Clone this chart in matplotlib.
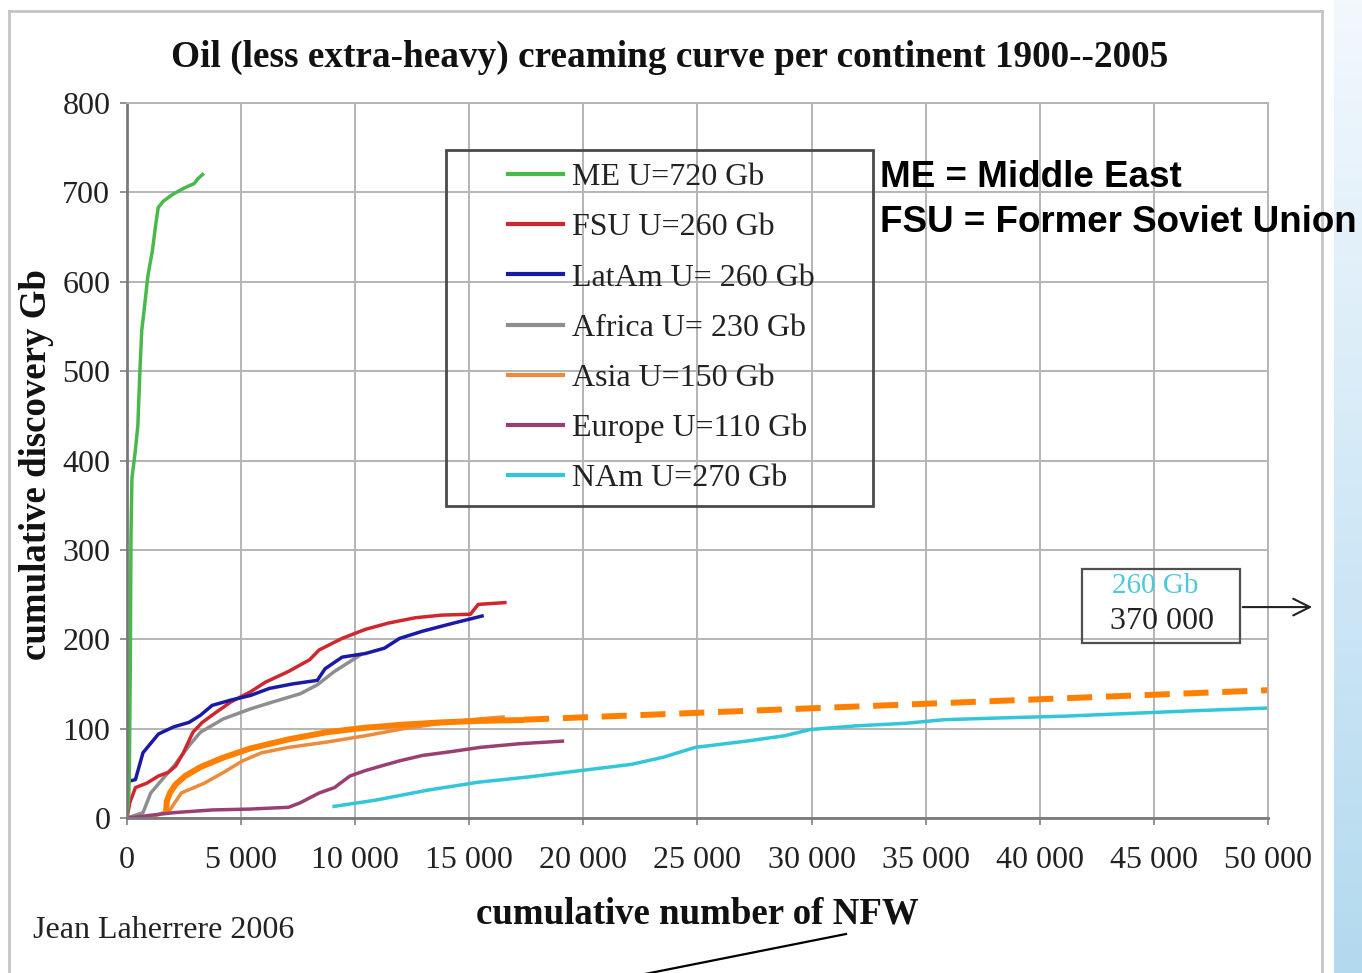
import numpy as np
import matplotlib
matplotlib.use("Agg")
import matplotlib.pyplot as plt
from matplotlib.lines import Line2D
from matplotlib.patches import Rectangle
from matplotlib.colors import LinearSegmentedColormap

# ---------------- data ----------------
me_x = [0, 70, 100, 144, 173, 216, 360, 475, 533, 576, 648, 763, 907, 1008, 1109, 1253, 1368, 1584, 2016, 2520, 2952, 3096, 3312]
me_y = [0, 20, 44, 166, 312, 380, 410, 439, 478, 507, 546, 571, 605, 620, 634, 663, 683, 690, 698, 705, 710, 715, 720]

fsu_x = [0, 120, 370, 870, 1380, 1800, 2130, 2470, 2890, 3300, 3890, 4560, 5400, 6070, 7080, 8000, 8420, 9430, 10440, 11440, 12620, 13790, 15050, 15390, 16560]
fsu_y = [0, 17, 34, 39, 47, 51, 58, 73, 96, 107, 118, 130, 141, 152, 164, 177, 188, 201, 211, 218, 224, 227, 228, 239, 241]

latam_x = [0, 70, 370, 700, 1380, 2050, 2720, 3220, 3730, 4560, 5400, 6240, 7250, 8340, 8680, 9430, 10440, 11280, 11950, 12950, 14300, 15560]
latam_y = [35, 41, 43, 73, 94, 102, 107, 115, 126, 132, 137, 145, 150, 154, 167, 180, 184, 190, 201, 209, 218, 226]

africa_x = [0, 700, 1040, 1540, 2050, 2720, 3220, 4230, 5400, 6410, 7590, 8340, 9090, 9770, 10200]
africa_y = [0, 6, 28, 43, 58, 81, 96, 111, 122, 130, 139, 149, 164, 175, 182]

asia_x = [0, 1200, 1880, 2380, 3390, 4230, 5070, 5900, 7080, 8760, 10440, 12120, 13790, 15470, 16480]
asia_y = [0, 2, 9, 28, 39, 51, 64, 73, 79, 85, 92, 100, 106, 111, 113]

europe_x = [0, 2050, 3730, 5400, 7080, 7590, 8420, 9090, 9770, 10440, 11110, 11950, 12950, 14130, 15470, 17150, 19080]
europe_y = [0, 6, 9, 10, 12, 17, 28, 34, 47, 53, 58, 64, 70, 74, 79, 83, 86]

nam_x = [9076, 10900, 13140, 15380, 17620, 19860, 22100, 23500, 24900, 27140, 28820, 29940, 31900, 34140, 35820, 38340, 41140, 43940, 46740, 49960]
nam_y = [13, 20, 31, 40, 46, 53, 60, 68, 79, 86, 92, 99, 103, 106, 110, 112, 114, 117, 120, 123]

fit_x = [1712, 1745, 1880, 2130, 2550, 3220, 4230, 5400, 7080, 8760, 10440, 12120, 13790, 15470, 17400]
fit_y = [7.5, 18.8, 28, 37.6, 47, 57, 67.7, 77.8, 88, 96, 101, 104.5, 107, 108.7, 109.6]
proj_x = [17400, 50000]
proj_y = [110, 143]

labels = ["ME U=720 Gb", "FSU U=260 Gb", "LatAm U= 260 Gb", "Africa U= 230 Gb",
          "Asia U=150 Gb", "Europe U=110 Gb", "NAm U=270 Gb"]
colors = ["#49b94c", "#d0262e", "#1a1aa6", "#8e8e8e", "#ee8a3a", "#9a3f72", "#33c6d8"]

xticks = list(range(0, 50001, 5000))
yticks = list(range(0, 801, 100))

SERIF = "Liberation Serif"
W, H = 1362, 973

fig = plt.figure(figsize=(W / 100, H / 100), dpi=100)

# light blue strip at right
bg = fig.add_axes([1334 / W, 0, (W - 1334) / W, 1])
grad = np.linspace(0, 1, 256).reshape(-1, 1)
cm = LinearSegmentedColormap.from_list("s", ["#f3f8fd", "#d3e9f7", "#b3d9ee"])
bg.imshow(grad, aspect="auto", cmap=cm, extent=[0, 1, 0, 1], origin="upper")
bg.axis("off")

# outer frame
fig.add_artist(Line2D([9 / W, 9 / W], [0, 1 - 11 / H], transform=fig.transFigure, color="#c4c4c4", lw=2))
fig.add_artist(Line2D([9 / W, 1322 / W], [1 - 11 / H, 1 - 11 / H], transform=fig.transFigure, color="#c4c4c4", lw=2))
fig.add_artist(Line2D([1322 / W, 1322 / W], [0, 1 - 11 / H], transform=fig.transFigure, color="#c4c4c4", lw=2))

ax = fig.add_axes([127 / W, 1 - 818 / H, 1141 / W, 715 / H])
ax.set_xlim(0, 50000)
ax.set_ylim(0, 800)
ax.set_xticks(xticks)
ax.set_yticks(yticks)
ax.set_xticklabels([f"{v:,}".replace(",", " ") for v in xticks], family=SERIF, fontsize=23, color="#222222")
ax.set_yticklabels([str(v) for v in yticks], family=SERIF, fontsize=23, color="#222222")
ax.tick_params(axis="both", direction="out", length=5, color="#808080", width=1.2)
ax.tick_params(axis="x", pad=15)
ax.tick_params(axis="y", pad=7)
ax.grid(True, color="#b4b4b4", lw=1.4)
ax.set_axisbelow(True)
for s in ["left", "bottom"]:
    ax.spines[s].set_color("#7a7a7a")
    ax.spines[s].set_linewidth(2)
for s in ["top", "right"]:
    ax.spines[s].set_color("#b4b4b4")
    ax.spines[s].set_linewidth(1.4)

series = [(me_x, me_y), (fsu_x, fsu_y), (latam_x, latam_y), (africa_x, africa_y),
          (asia_x, asia_y), (europe_x, europe_y), (nam_x, nam_y)]
order = [3, 4, 5, 6, 1, 2, 0]
for i in order:
    xs, ys = series[i]
    ax.plot(xs, ys, color=colors[i], lw=2.5, solid_joinstyle="round")

ax.plot(fit_x, fit_y, color="#ff8000", lw=4.3, solid_capstyle="butt")
ax.plot(proj_x, proj_y, color="#ff8000", lw=4.3, dashes=(4.2, 2.3))

# legend
leg_handles = [Line2D([], [], color=colors[i], lw=3) for i in range(7)]
leg = ax.legend(leg_handles, labels, loc="upper left", bbox_to_anchor=((508 - 127) / 1141, (818 - 163) / 715),
                frameon=False, borderpad=0, borderaxespad=0, handlelength=1.72, handletextpad=0.28,
                labelspacing=0.65, prop={"family": SERIF, "size": 23})
for t in leg.get_texts():
    t.set_color("#222222")
ax.add_patch(Rectangle(((446 - 127) / 1141, (818 - 506) / 715), 427 / 1141, 356 / 715,
                       transform=ax.transAxes, fill=False, edgecolor="#4a4a4a", lw=2, zorder=5))

# box annotation
ax.add_patch(Rectangle((41850, 195.8), 6920, 82.8, fill=False, edgecolor="#505050", lw=1.6, zorder=5))
ax.text(45050, 260, "260 Gb", color="#4fc9d8", family=SERIF, fontsize=21, ha="center", va="center")
ax.text(45350, 220, "370 000", color="#222222", family=SERIF, fontsize=23, ha="center", va="center")
ax.annotate("", xy=(52060, 236), xytext=(48770, 236), xycoords="data",
            arrowprops=dict(arrowstyle="->", color="#222222", lw=1.5, mutation_scale=30),
            annotation_clip=False)

# labels
ax.set_xlabel("cumulative number of NFW", family=SERIF, fontsize=26.6, fontweight="bold", va="center", color="#111111")
ax.xaxis.set_label_coords(0.5, (818 - 914) / 715)
ax.set_ylabel("cumulative discovery Gb", family=SERIF, fontsize=26.6, fontweight="bold", va="center", color="#111111")
ax.yaxis.set_label_coords((36 - 127) / 1141, (818 - 465) / 715)

fig.text(670 / W, 1 - 57 / H, "Oil (less extra-heavy) creaming curve per continent 1900--2005",
         family=SERIF, fontsize=26.8, fontweight="bold", ha="center", va="center", color="#111111")
fig.text(33 / W, 1 - 930 / H, "Jean Laherrere 2006", family=SERIF, fontsize=23, ha="left", va="center", color="#222222")
fig.text(880 / W, 1 - 178 / H, "ME = Middle East", family="Liberation Sans", fontsize=26.5,
         fontweight="bold", ha="left", va="center", color="black")
fig.text(880 / W, 1 - 222 / H, "FSU = Former Soviet Union", family="Liberation Sans", fontsize=26.5,
         fontweight="bold", ha="left", va="center", color="black")
fig.add_artist(Line2D([846 / W, 640 / W], [1 - 934 / H, 1 - 975 / H], transform=fig.transFigure,
                      color="black", lw=1.6))

fig.savefig("out.png", dpi=100)
